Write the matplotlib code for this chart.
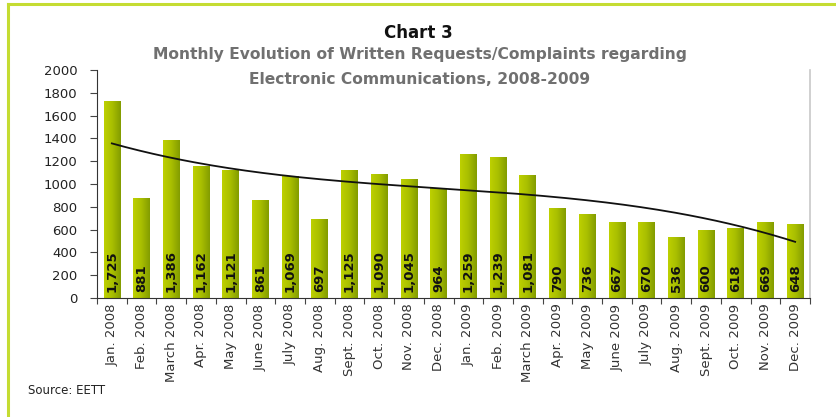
import numpy as np
import matplotlib
matplotlib.use("Agg")
import matplotlib.pyplot as plt
from matplotlib.lines import Line2D

months = ["Jan. 2008", "Feb. 2008", "March 2008", "Apr. 2008", "May 2008", "June 2008",
          "July 2008", "Aug. 2008", "Sept. 2008", "Oct. 2008", "Nov. 2008", "Dec. 2008",
          "Jan. 2009", "Feb. 2009", "March 2009", "Apr. 2009", "May 2009", "June 2009",
          "July 2009", "Aug. 2009", "Sept. 2009", "Oct. 2009", "Nov. 2009", "Dec. 2009"]
requests = [1725, 881, 1386, 1162, 1121, 861, 1069, 697, 1125, 1090, 1045, 964,
            1259, 1239, 1081, 790, 736, 667, 670, 536, 600, 618, 669, 648]
y_ticks = [0, 200, 400, 600, 800, 1000, 1200, 1400, 1600, 1800, 2000]

fig = plt.figure(figsize=(8.36, 4.17), dpi=100)
W, H = 836, 417

# frame lines on the left and top of the page
fig.add_artist(Line2D([8 / W, 8 / W], [0, 1 - 4 / H], color="#c5dc32", lw=2.2))
fig.add_artist(Line2D([8 / W, 1], [1 - 4 / H, 1 - 4 / H], color="#c5dc32", lw=2.2))

ax = fig.add_axes([97 / W, 1 - 298 / H, (810 - 97) / W, (298 - 70) / H])
x = np.arange(len(months))
bw = 0.56
bars = ax.bar(x, requests, width=bw, color="#a0b800", zorder=2)

# horizontal gradient fill inside each bar
grad = np.linspace(0, 1, 64).reshape(1, -1)
cmap = matplotlib.colors.LinearSegmentedColormap.from_list(
    "olive", ["#bdd000", "#a8be00", "#839c00"])
for b in bars:
    bx, by = b.get_x(), b.get_y()
    im = ax.imshow(grad, cmap=cmap, aspect="auto", zorder=2.1,
                   extent=[bx, bx + b.get_width(), by, by + b.get_height()])
    im.set_clip_path(b)

# polynomial trend line through the monthly values
coef = np.polyfit(x, requests, 3)
xs = np.linspace(x[0], x[-1], 200)
ax.plot(xs, np.polyval(coef, xs), color="#111111", lw=1.3, zorder=4)

for xi, v in zip(x, requests):
    ax.annotate(f"{v:,}", (xi, 0), xytext=(0, 4), textcoords="offset points",
                rotation=90, ha="center", va="bottom", fontsize=9.5,
                fontweight="bold", color="#111111", zorder=5)

ax.set_xlim(-0.5, len(months) - 0.5)
ax.set_ylim(0, 2000)
ax.set_yticks(y_ticks)
ax.set_yticklabels([str(t) for t in y_ticks], fontsize=9.5, color="#222222")
ax.set_xticks(np.arange(len(months) + 1) - 0.5)
ax.set_xticklabels([])
ax.set_xticks(x, minor=True)
ax.set_xticklabels(months, minor=True, rotation=90, fontsize=9.5, color="#333333")
ax.tick_params(axis="x", which="minor", length=0, pad=4)
ax.tick_params(axis="x", which="major", length=4, width=0.8, color="#444444")
ax.tick_params(axis="y", length=5, width=0.8, color="#444444", pad=9)

ax.spines["top"].set_visible(False)
ax.spines["right"].set_color("#c8c8c8")
ax.spines["right"].set_linewidth(1.2)
ax.spines["left"].set_color("#333333")
ax.spines["bottom"].set_color("#333333")

fig.text(418 / W, 1 - 33 / H, "Chart 3", ha="center", va="center",
         fontsize=12, fontweight="bold", color="#111111")
fig.text(420 / W, 1 - 55 / H, "Monthly Evolution of Written Requests/Complaints regarding",
         ha="center", va="center", fontsize=11.2, fontweight="bold", color="#707070")
fig.text(420 / W, 1 - 80 / H, "Electronic Communications, 2008-2009",
         ha="center", va="center", fontsize=11.2, fontweight="bold", color="#707070")
fig.text(28 / W, 1 - 390 / H, "Source: EETT", ha="left", va="center",
         fontsize=8.5, color="#222222")

fig.savefig("out.png", dpi=100)
